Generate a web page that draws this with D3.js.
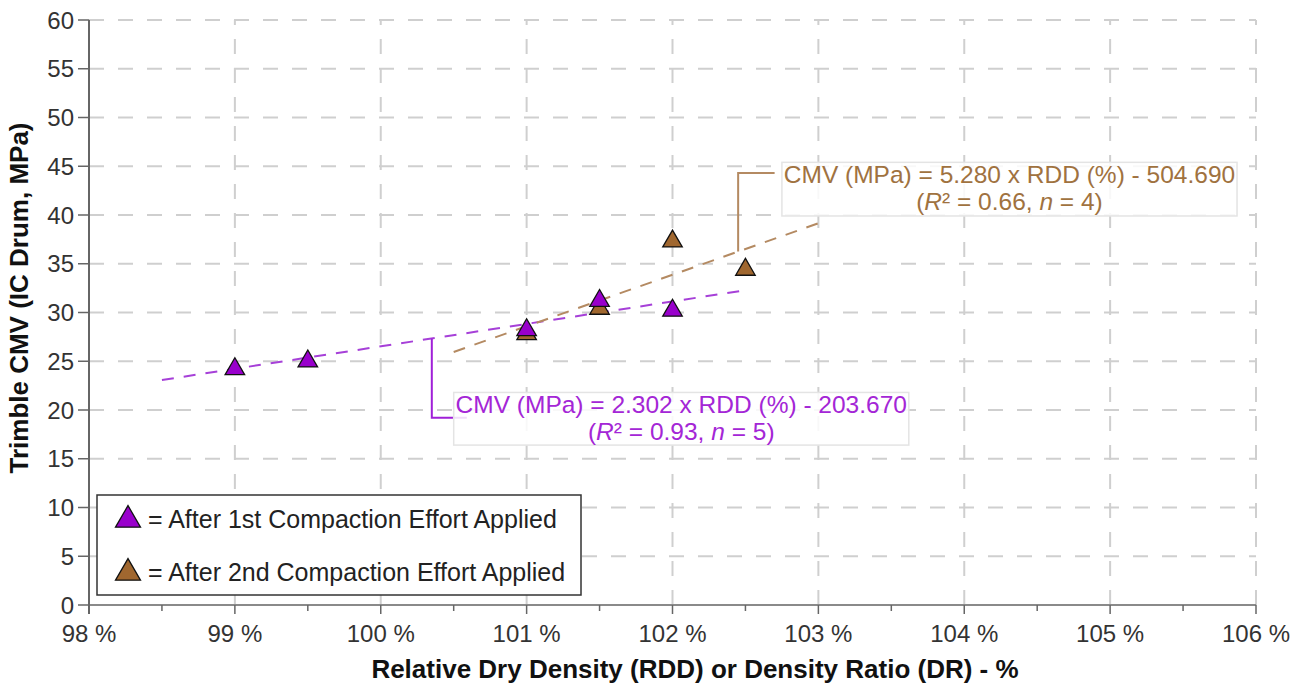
<!DOCTYPE html>
<html>
<head>
<meta charset="utf-8">
<script src="https://cdn.jsdelivr.net/npm/d3@7"></script>
<style>
  body { margin: 0; background: #fff; }
  svg text { font-family: 'Liberation Sans', Arial, sans-serif; }
</style>
</head>
<body>
<div id="chart"></div>
<script>
// podaci — RDD (%) i CMV (MPa)
const rdd1 = [99, 99.5, 101, 101.5, 102];
const cmv1 = [24.2, 25.0, 28.2, 31.2, 30.2];
const rdd2 = [101, 101.5, 102, 102.5];
const cmv2 = [27.8, 30.4, 37.3, 34.4];

// regresije: nagib, odsječak, raspon crtanja
const fit1 = { slope: 2.302, icpt: -203.670, from: 98.5, to: 102.5 };
const fit2 = { slope: 5.280, icpt: -504.690, from: 100.5, to: 103 };

const xTicks = [98, 99, 100, 101, 102, 103, 104, 105, 106];
const yTicks = [0, 5, 10, 15, 20, 25, 30, 35, 40, 45, 50, 55, 60];

const eqText1 = ['CMV (MPa) = 2.302 x RDD (%) - 203.670', '0.93', '5'];
const eqText2 = ['CMV (MPa) = 5.280 x RDD (%) - 504.690', '0.66', '4'];
const legendLabels = ['= After 1st Compaction Effort Applied', '= After 2nd Compaction Effort Applied'];

const PURPLE = '#9900cc', BROWN = '#a0672f';
const PURPLE_LN = '#a640d8', BROWN_LN = '#b48a62';
const PURPLE_TX = '#a426d6', BROWN_TX = '#a0723f';

const W = 1304, H = 686, m = { top: 20, right: 48, bottom: 81, left: 89 };
const w = W - m.left - m.right, h = H - m.top - m.bottom;

const svg = d3.select('#chart').append('svg').attr('width', W).attr('height', H);
const g = svg.append('g').attr('transform', `translate(${m.left},${m.top})`);

const x = d3.scaleLinear().domain([98, 106]).range([0, w]);
const y = d3.scaleLinear().domain([0, 60]).range([h, 0]);

// mreža — isprekidane sive linije
yTicks.slice(1).forEach(t =>
  g.append('line').attr('x1', 0).attr('x2', w).attr('y1', y(t)).attr('y2', y(t))
    .attr('stroke', '#cfcfcf').attr('stroke-width', 2).attr('stroke-dasharray', '15,14')
);
xTicks.slice(1).forEach(t =>
  g.append('line').attr('x1', x(t)).attr('x2', x(t)).attr('y1', h).attr('y2', 0)
    .attr('stroke', '#cfcfcf').attr('stroke-width', 2).attr('stroke-dasharray', '15,14')
);

// trend linije
[[fit1, PURPLE_LN], [fit2, BROWN_LN]].forEach(([f, col]) => {
  g.append('line')
    .attr('x1', x(f.from)).attr('y1', y(f.slope * f.from + f.icpt))
    .attr('x2', x(f.to)).attr('y2', y(f.slope * f.to + f.icpt))
    .attr('stroke', col).attr('stroke-width', 2).attr('stroke-dasharray', '12,10');
});

// oznake jednadžbi s vodilicama (u koordinatama podataka)
function eqLabel(f, txt, col, lineCol, anchorX, elbowY, boxX0, boxX1, boxY0, boxY1, leadEndX) {
  const ay = f.slope * anchorX + f.icpt;
  g.append('polyline')
    .attr('points', [[x(anchorX), y(ay)], [x(anchorX), y(elbowY)], [x(leadEndX), y(elbowY)]].map(p => p.join(',')).join(' '))
    .attr('fill', 'none').attr('stroke', lineCol).attr('stroke-width', 2);
  g.append('rect').attr('x', x(boxX0)).attr('y', y(boxY0))
    .attr('width', x(boxX1) - x(boxX0)).attr('height', y(boxY1) - y(boxY0))
    .attr('fill', '#fff').attr('fill-opacity', 0.85).attr('stroke', '#e4e4e4').attr('stroke-width', 1.5);
  const cx = (x(boxX0) + x(boxX1)) / 2, top = y(boxY0);
  g.append('text').attr('x', cx).attr('y', top + 21).attr('text-anchor', 'middle')
    .attr('fill', col).attr('font-size', 24.5).text(txt[0]);
  const t2 = g.append('text').attr('x', cx).attr('y', top + 48).attr('text-anchor', 'middle')
    .attr('fill', col).attr('font-size', 24.5);
  t2.append('tspan').text('(');
  t2.append('tspan').attr('font-style', 'italic').text('R');
  t2.append('tspan').text('² = ' + txt[1] + ', ');
  t2.append('tspan').attr('font-style', 'italic').text('n');
  t2.append('tspan').text(' = ' + txt[2] + ')');
}
eqLabel(fit2, eqText2, BROWN_TX, BROWN_LN, 102.45, 44.3, 102.75, 105.87, 45.4, 39.9, 102.7);
eqLabel(fit1, eqText1, PURPLE_TX, '#a020d8', 100.35, 19.2, 100.5, 103.62, 21.8, 16.4, 100.59);

// točke — trokuti
const tri = d3.symbol().type(d3.symbolTriangle).size(165);
[[rdd2, cmv2, BROWN], [rdd1, cmv1, PURPLE]].forEach(([xs, ys, col]) => {
  xs.forEach((v, i) =>
    g.append('path').attr('d', tri).attr('transform', `translate(${x(v)},${y(ys[i])})`)
      .attr('fill', col).attr('stroke', '#111').attr('stroke-width', 1.3)
  );
});

// osi
g.append('line').attr('x1', 0).attr('x2', w).attr('y1', h).attr('y2', h).attr('stroke', '#8a8a8a').attr('stroke-width', 2);
g.append('line').attr('x1', 0).attr('x2', 0).attr('y1', 0).attr('y2', h + 9).attr('stroke', '#666').attr('stroke-width', 2);

yTicks.forEach(t => {
  g.append('line').attr('x1', -11).attr('x2', 0).attr('y1', y(t)).attr('y2', y(t)).attr('stroke', '#666').attr('stroke-width', 1.5);
  g.append('text').attr('x', -15).attr('y', y(t)).attr('text-anchor', 'end').attr('dominant-baseline', 'central')
    .attr('fill', '#333').attr('font-size', 24).text(t);
});
d3.range(98, 106.01, 0.5).forEach(t => {
  const major = Number.isInteger(t);
  g.append('line').attr('x1', x(t)).attr('x2', x(t)).attr('y1', h).attr('y2', h + (major ? 9 : 6))
    .attr('stroke', '#666').attr('stroke-width', 1.5);
});
xTicks.forEach(t =>
  g.append('text').attr('x', x(t)).attr('y', h + 37).attr('text-anchor', 'middle')
    .attr('fill', '#333').attr('font-size', 24).text(t + ' %')
);

// naslovi osi
svg.append('text').attr('x', 695).attr('y', 678).attr('text-anchor', 'middle')
  .attr('font-weight', 'bold').attr('font-size', 26).attr('fill', '#111')
  .text('Relative Dry Density (RDD) or Density Ratio (DR) - %');
svg.append('text').attr('transform', 'translate(28,298) rotate(-90)').attr('text-anchor', 'middle')
  .attr('font-weight', 'bold').attr('font-size', 26).attr('fill', '#111')
  .text('Trimble CMV (IC Drum, MPa)');

// legenda
const lg = svg.append('g').attr('transform', 'translate(97,495)');
lg.append('rect').attr('width', 484).attr('height', 100).attr('fill', '#fff').attr('stroke', '#333').attr('stroke-width', 1.5);
const triL = d3.symbol().type(d3.symbolTriangle).size(270);
[[PURPLE, legendLabels[0], 24], [BROWN, legendLabels[1], 77]].forEach(([col, lab, ly]) => {
  lg.append('path').attr('d', triL).attr('transform', `translate(31,${ly + 1})`)
    .attr('fill', col).attr('stroke', '#111').attr('stroke-width', 1.3);
  lg.append('text').attr('x', 51).attr('y', ly + 9).attr('fill', '#222').attr('font-size', 25).text(lab);
});
</script>
</body>
</html>
